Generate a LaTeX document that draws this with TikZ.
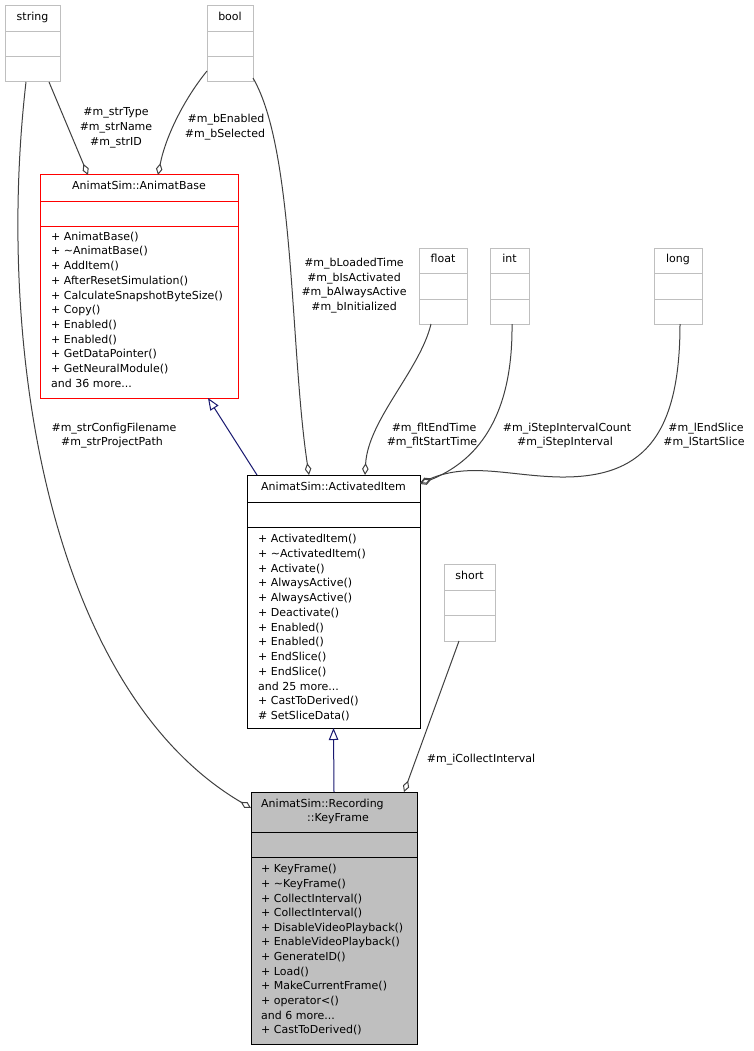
\documentclass[tikz,border=0pt]{standalone}
\usepackage{fontspec}
\setmainfont{DejaVu Sans}
\usetikzlibrary{arrows.meta,calc}
\definecolor{boxgray}{HTML}{BFBFBF}
\definecolor{edgegray}{HTML}{404040}
\definecolor{navyblue}{HTML}{191970}
\newcommand\mydots{...}
\begin{document}
\begin{tikzpicture}[x=1pt,y=-1pt,
  font=\fontsize{11}{13}\selectfont,
  box/.style={draw=boxgray, line width=1pt, inner sep=0pt, outer sep=0pt, anchor=north west},
  lbl/.style={inner sep=0pt, anchor=mid},
  mem/.style={inner sep=0pt, anchor=mid west},
  agg/.style={draw=edgegray, line width=1pt, -{Diamond[open,length=12pt,width=6.5pt]}},
  inh/.style={draw=navyblue, line width=1pt, -{Triangle[open,length=12pt,width=9.5pt]}}]
\useasboundingbox (0,0) rectangle (753,1051);

% ---- small type boxes ----
\node[box, minimum width=55pt, minimum height=76pt] (str) at (5,6) {};
\draw[boxgray,line width=1pt] (5,32) -- (60,32) (5,57) -- (60,57);
\node[lbl] (strT) at (32.5,18) {string};

\node[box, minimum width=46pt, minimum height=76pt] (bool) at (207,6) {};
\draw[boxgray,line width=1pt] (207,32) -- (253,32) (207,57) -- (253,57);
\node[lbl] (boolT) at (230,18) {bool};

\node[box, minimum width=48pt, minimum height=76pt] (flt) at (419,248) {};
\draw[boxgray,line width=1pt] (419,273) -- (467,273) (419,299) -- (467,299);
\node[lbl] (fltT) at (443,260) {float};

\node[box, minimum width=39pt, minimum height=76pt] (int) at (490,248) {};
\draw[boxgray,line width=1pt] (490,273) -- (529,273) (490,299) -- (529,299);
\node[lbl] (intT) at (509.5,260) {int};

\node[box, minimum width=48pt, minimum height=76pt] (lng) at (654,248) {};
\draw[boxgray,line width=1pt] (654,273) -- (702,273) (654,299) -- (702,299);
\node[lbl] (lngT) at (678,260) {long};

\node[box, minimum width=51pt, minimum height=77pt] (sht) at (444,564) {};
\draw[boxgray,line width=1pt] (444,590) -- (495,590) (444,615) -- (495,615);
\node[lbl] (shtT) at (469.5,577) {short};

% ---- AnimatBase ----
\node[box, draw=red, minimum width=198pt, minimum height=223pt] (ab) at (40,175) {};
\draw[red,line width=1pt] (40,201) -- (238,201) (40,226) -- (238,226);
\node[lbl] (abT) at (139,187) {AnimatSim::AnimatBase};
\foreach \t [count=\i] in {+ AnimatBase(), + \textasciitilde AnimatBase(), + AddItem(),
  + AfterResetSimulation(), + CalculateSnapshotByteSize(), + Copy(), + Enabled(),
  + Enabled(), + GetDataPointer(), + GetNeuralModule(), and 36 more\mydots}
  \node[mem] (abm\i) at (51,{237.5+(\i-1)*14.7}) {\t};

% ---- ActivatedItem ----
\node[box, draw=black, minimum width=173pt, minimum height=253pt] (ai) at (247,475) {};
\draw[black,line width=1pt] (247,502) -- (420,502) (247,527) -- (420,527);
\node[lbl] (aiT) at (333.5,488) {AnimatSim::ActivatedItem};
\foreach \t [count=\i] in {+ ActivatedItem(), + \textasciitilde ActivatedItem(), + Activate(),
  + AlwaysActive(), + AlwaysActive(), + Deactivate(), + Enabled(), + Enabled(),
  + EndSlice(), + EndSlice(), and 25 more\mydots, + CastToDerived(), \# SetSliceData()}
  \node[mem] (aim\i) at (258,{540+(\i-1)*14.75}) {\t};

% ---- KeyFrame ----
\node[box, draw=black, fill=boxgray, minimum width=166pt, minimum height=252pt] (kf) at (251,792) {};
\draw[black,line width=1pt] (251,832) -- (417,832) (251,857) -- (417,857);
\node[mem] (kfT1) at (261,805) {AnimatSim::Recording};
\node[lbl] (kfT2) at (338,819) {::KeyFrame};
\foreach \t [count=\i] in {+ KeyFrame(), + \textasciitilde KeyFrame(), + CollectInterval(),
  + CollectInterval(), + DisableVideoPlayback(), + EnableVideoPlayback(), + GenerateID(),
  + Load(), + MakeCurrentFrame(), + operator<(), and 6 more\mydots, + CastToDerived()}
  \node[mem] (kfm\i) at (261,{870+(\i-1)*14.65}) {\t};

% ---- connectors ----
\draw[agg] ($(str.south west)+(21,0)$) .. controls (-5,350) and (50,690) .. ($(kf.north west)+(0,16)$);
\draw[agg] ($(str.south west)+(44,0)$) -- ($(ab.north west)+(48,0)$);
\draw[agg] ($(bool.south west)+(0,-11)$) .. controls (185,98) and (166,135) .. ($(ab.north west)+(118,0)$);
\draw[agg] ($(bool.south east)+(0,-4)$) .. controls (295,150) and (290,350) .. ($(ai.north west)+(62,0)$);
\draw[inh] ($(ai.north west)+(10,0)$) -- ($(ab.south west)+(168,0)$);
\draw[agg] ($(flt.south west)+(12,0)$) .. controls (420,370) and (368,420) .. ($(ai.north west)+(118,0)$);
\draw[agg] ($(int.south west)+(22,0)$) .. controls (513,420) and (475,462) .. ($(ai.north east)+(0,9)$);
\draw[agg] ($(lng.south west)+(26,0)$) .. controls (680,440) and (640,478) .. (560,477)
   .. controls (510,476) and (470,462) .. ($(ai.north east)+(0,8)$);
\draw[inh] (kf.north) -- (ai.south);
\draw[agg] ($(sht.south west)+(15,0)$) -- ($(kf.north west)+(153,0)$);

% ---- labels ----
\node[lbl] (l1a) at (116,113) {\#m\_strType};
\node[lbl] (l1b) at (116,128) {\#m\_strName};
\node[lbl] (l1c) at (116,143) {\#m\_strID};
\node[lbl] (l2a) at (226,120) {\#m\_bEnabled};
\node[lbl] (l2b) at (225,135) {\#m\_bSelected};
\node[lbl] (l3a) at (354,264) {\#m\_bLoadedTime};
\node[lbl] (l3b) at (354,279) {\#m\_bIsActivated};
\node[lbl] (l3c) at (354,293) {\#m\_bAlwaysActive};
\node[lbl] (l3d) at (354,308) {\#m\_bInitialized};
\node[lbl] (l4a) at (434,429) {\#m\_fltEndTime};
\node[lbl] (l4b) at (432,443) {\#m\_fltStartTime};
\node[lbl] (l5a) at (567,429) {\#m\_iStepIntervalCount};
\node[lbl] (l5b) at (565,443) {\#m\_iStepInterval};
\node[lbl] (l6a) at (706,429) {\#m\_lEndSlice};
\node[lbl] (l6b) at (704,443) {\#m\_lStartSlice};
\node[lbl] (l7a) at (114,429) {\#m\_strConfigFilename};
\node[lbl] (l7b) at (112,443) {\#m\_strProjectPath};
\node[lbl] (l8) at (481,760) {\#m\_iCollectInterval};
\end{tikzpicture}
\end{document}
